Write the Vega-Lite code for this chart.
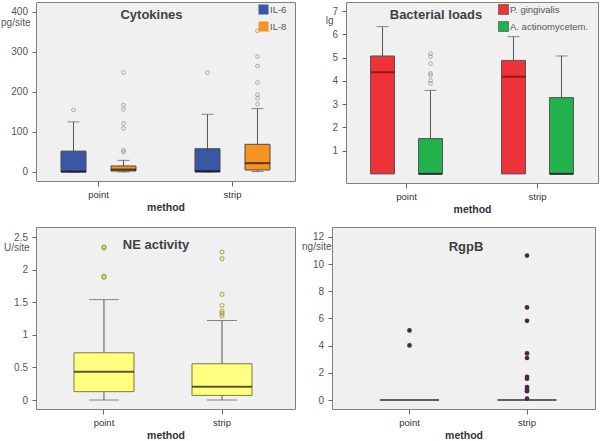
{
  "$schema": "https://vega.github.io/schema/vega-lite/v6.json",
  "padding": {"left": 0, "top": 1, "right": 0, "bottom": 0},
  "background": "white",
  "config": {
    "font": "Liberation Sans",
    "view": {"fill": "#f0f0f0", "stroke": "#808080", "strokeWidth": 1},
    "axis": {"domain": false, "grid": false, "labelOverlap": false, "tickColor": "#666666", "labelColor": "#555555", "labelFontSize": 10, "titleColor": "#333333"},
    "axisY": {"tickSize": 4, "labelPadding": 4.5, "tickCount": 20, "titleAngle": 0, "titleAlign": "right", "titleBaseline": "alphabetic", "titleFontWeight": "normal", "titleFontSize": 10, "titleColor": "#555555"},
    "axisX": {"tickSize": 5, "labelPadding": 3, "labelAngle": 0, "labelFontSize": 9.5, "labelColor": "#333333", "titleFontWeight": "bold", "titleFontSize": 10.5, "titlePadding": 4},
    "title": {"fontSize": 13, "fontWeight": "bold", "color": "#404040", "anchor": "middle", "frame": "group", "baseline": "alphabetic"},
    "legend": {"orient": "none", "symbolType": "square", "symbolSize": 100, "symbolStrokeColor": "#444444", "symbolStrokeWidth": 0.6, "labelFontSize": 9.5, "labelColor": "#555555", "rowPadding": 4, "padding": 0, "labelOffset": 1}
  },
  "datasets": {
    "cyto_box": [
      {"method": "point", "marker": "IL-6", "lower": 0, "q1": 0, "median": 1, "q3": 52, "upper": 125},
      {"method": "point", "marker": "IL-8", "lower": 0, "q1": 2.5, "median": 6, "q3": 15, "upper": 29},
      {"method": "strip", "marker": "IL-6", "lower": 0, "q1": 0, "median": 2, "q3": 58, "upper": 144},
      {"method": "strip", "marker": "IL-8", "lower": 1, "q1": 5, "median": 22, "q3": 69, "upper": 158}
    ],
    "cyto_out": [
      {"method": "point", "marker": "IL-6", "value": 155},
      {"method": "point", "marker": "IL-8", "value": 50},
      {"method": "point", "marker": "IL-8", "value": 54},
      {"method": "point", "marker": "IL-8", "value": 109},
      {"method": "point", "marker": "IL-8", "value": 121},
      {"method": "point", "marker": "IL-8", "value": 156},
      {"method": "point", "marker": "IL-8", "value": 167},
      {"method": "point", "marker": "IL-8", "value": 248},
      {"method": "strip", "marker": "IL-6", "value": 248},
      {"method": "strip", "marker": "IL-8", "value": 169},
      {"method": "strip", "marker": "IL-8", "value": 184},
      {"method": "strip", "marker": "IL-8", "value": 193},
      {"method": "strip", "marker": "IL-8", "value": 223},
      {"method": "strip", "marker": "IL-8", "value": 264},
      {"method": "strip", "marker": "IL-8", "value": 288},
      {"method": "strip", "marker": "IL-8", "value": 352}
    ],
    "bact_box": [
      {"method": "point", "marker": "P. gingivalis", "lower": 0, "q1": 0, "median": 4.37, "q3": 5.07, "upper": 6.33},
      {"method": "point", "marker": "A. actinomycetem.", "lower": 0, "q1": 0, "median": 0, "q3": 1.52, "upper": 3.59},
      {"method": "strip", "marker": "P. gingivalis", "lower": 0, "q1": 0, "median": 4.18, "q3": 4.88, "upper": 5.9},
      {"method": "strip", "marker": "A. actinomycetem.", "lower": 0, "q1": 0, "median": 0, "q3": 3.28, "upper": 5.07}
    ],
    "bact_out": [
      {"method": "point", "marker": "A. actinomycetem.", "value": 5.17},
      {"method": "point", "marker": "A. actinomycetem.", "value": 5.04},
      {"method": "point", "marker": "A. actinomycetem.", "value": 4.74},
      {"method": "point", "marker": "A. actinomycetem.", "value": 4.32},
      {"method": "point", "marker": "A. actinomycetem.", "value": 4.24},
      {"method": "point", "marker": "A. actinomycetem.", "value": 4.02},
      {"method": "point", "marker": "A. actinomycetem.", "value": 3.89}
    ],
    "ne_box": [
      {"method": "point", "lower": 0, "q1": 0.128, "median": 0.434, "q3": 0.724, "upper": 1.54},
      {"method": "strip", "lower": 0, "q1": 0.071, "median": 0.204, "q3": 0.556, "upper": 1.22}
    ],
    "ne_out": [
      {"method": "point", "value": 1.88},
      {"method": "point", "value": 1.9},
      {"method": "point", "value": 2.33},
      {"method": "point", "value": 2.35},
      {"method": "strip", "value": 1.29},
      {"method": "strip", "value": 1.33},
      {"method": "strip", "value": 1.36},
      {"method": "strip", "value": 1.45},
      {"method": "strip", "value": 1.62},
      {"method": "strip", "value": 2.17},
      {"method": "strip", "value": 2.27}
    ],
    "rgp_box": [
      {"method": "point", "median": 0},
      {"method": "strip", "median": 0}
    ],
    "rgp_pts": [
      {"method": "point", "value": 4.02},
      {"method": "point", "value": 5.12},
      {"method": "strip", "value": 10.63},
      {"method": "strip", "value": 6.81},
      {"method": "strip", "value": 5.83},
      {"method": "strip", "value": 3.43},
      {"method": "strip", "value": 3.09},
      {"method": "strip", "value": 1.71},
      {"method": "strip", "value": 1.57},
      {"method": "strip", "value": 0.95},
      {"method": "strip", "value": 0.8},
      {"method": "strip", "value": 0.65},
      {"method": "strip", "value": 0.1}
    ]
  },
  "resolve": {"scale": {"color": "independent", "xOffset": "independent"}, "legend": {"color": "independent"}},
  "bounds": "full",
  "spacing": 10,
  "vconcat": [
    {
      "bounds": "flush",
      "spacing": 51,
      "resolve": {"scale": {"color": "independent", "xOffset": "independent"}, "legend": {"color": "independent"}},
      "hconcat": [
        {
          "width": 259,
          "height": 179,
          "title": {"text": "Cytokines", "dx": -14, "offset": -20},
          "encoding": {
            "x": {"field": "method", "type": "nominal", "title": "method", "scale": {"type": "band", "domain": ["point", "strip"], "paddingInner": 0.167, "paddingOuter": 0.05}},
            "xOffset": {"field": "marker", "type": "nominal", "scale": {"type": "band", "domain": ["IL-6", "IL-8"], "paddingInner": 0.5, "paddingOuter": 0.366}}
          },
          "layer": [
            {"data": {"name": "cyto_box"}, "mark": {"type": "rule", "color": "#555555"},
             "encoding": {"y": {"field": "lower", "type": "quantitative", "title": "pg/site", "scale": {"domain": [-22.5, 424], "nice": false, "zero": false}, "axis": {"values": [0, 100, 200, 300, 400], "format": "d", "titleX": -6, "titleY": 23}}, "y2": {"field": "upper"}}},
            {"data": {"name": "cyto_box"}, "mark": {"type": "tick", "size": 12, "thickness": 1, "color": "#555555"},
             "encoding": {"y": {"field": "upper", "type": "quantitative", "title": "pg/site"}}},
            {"data": {"name": "cyto_box"}, "mark": {"type": "tick", "size": 12, "thickness": 1, "color": "#555555"},
             "encoding": {"y": {"field": "lower", "type": "quantitative", "title": "pg/site"}}},
            {"data": {"name": "cyto_box"}, "mark": {"type": "bar", "stroke": "#4a4a4a", "strokeWidth": 1},
             "encoding": {"y": {"field": "q1", "type": "quantitative", "title": "pg/site"}, "y2": {"field": "q3"},
               "color": {"field": "marker", "type": "nominal", "title": null, "scale": {"domain": ["IL-6", "IL-8"], "range": ["#3c56a6", "#f7931e"]},
                 "legend": {"legendX": 222, "legendY": 2, "encode": {"symbols": {"update": {"fill": {"signal": "datum.label === 'IL-6' ? '#1f6cc8' : '#f6c20c'"}}}}}}}},
            {"data": {"name": "cyto_box"}, "mark": {"type": "tick", "size": 25, "thickness": 2, "color": "#111111"},
             "encoding": {"y": {"field": "median", "type": "quantitative", "title": "pg/site"}}},
            {"data": {"name": "cyto_out"}, "mark": {"type": "point", "shape": "circle", "filled": false, "size": 14, "color": "#8a8a8a", "strokeWidth": 1},
             "encoding": {"y": {"field": "value", "type": "quantitative", "title": "pg/site"}}}
          ]
        },
        {
          "width": 252,
          "height": 181,
          "title": {"text": "Bacterial loads", "dx": -36, "offset": -20},
          "encoding": {
            "x": {"field": "method", "type": "nominal", "title": "method", "scale": {"type": "band", "domain": ["point", "strip"], "paddingInner": 0.176, "paddingOuter": 0.05}},
            "xOffset": {"field": "marker", "type": "nominal", "scale": {"type": "band", "domain": ["P. gingivalis", "A. actinomycetem."], "paddingInner": 0.5, "paddingOuter": 0.375}}
          },
          "layer": [
            {"data": {"name": "bact_box"}, "mark": {"type": "rule", "color": "#555555"},
             "encoding": {"y": {"field": "lower", "type": "quantitative", "title": "lg", "scale": {"domain": [-0.39, 7.39], "nice": false, "zero": false}, "axis": {"values": [1, 2, 3, 4, 5, 6, 7], "format": "d", "titleX": -13, "titleY": 21}}, "y2": {"field": "upper"}}},
            {"data": {"name": "bact_box"}, "mark": {"type": "tick", "size": 12, "thickness": 1, "color": "#555555"},
             "encoding": {"y": {"field": "upper", "type": "quantitative", "title": "lg"}}},
            {"data": {"name": "bact_box"}, "mark": {"type": "bar", "stroke": "#555555", "strokeWidth": 1},
             "encoding": {"y": {"field": "q1", "type": "quantitative", "title": "lg"}, "y2": {"field": "q3"},
               "color": {"field": "marker", "type": "nominal", "title": null, "scale": {"domain": ["P. gingivalis", "A. actinomycetem."], "range": ["#ee3338", "#22b14c"]}, "legend": {"legendX": 152, "legendY": 2}}}},
            {"data": {"name": "bact_box"}, "mark": {"type": "tick", "size": 24, "thickness": 2},
             "encoding": {"y": {"field": "median", "type": "quantitative", "title": "lg"},
               "color": {"condition": {"test": "datum.marker === 'P. gingivalis'", "value": "#7a0a0a"}, "value": "#111111"}}},
            {"data": {"name": "bact_out"}, "mark": {"type": "point", "shape": "circle", "filled": false, "size": 14, "color": "#8a8a8a", "strokeWidth": 1},
             "encoding": {"y": {"field": "value", "type": "quantitative", "title": "lg"}}}
          ]
        }
      ]
    },
    {
      "bounds": "flush",
      "spacing": 37,
      "hconcat": [
        {
          "width": 259,
          "height": 182,
          "title": {"text": "NE activity", "dx": -9.5, "offset": -25},
          "encoding": {
            "x": {"field": "method", "type": "nominal", "title": "method", "scale": {"type": "band", "domain": ["point", "strip"], "paddingInner": 0.4915, "paddingOuter": 0.343, "align": 0.469}}
          },
          "layer": [
            {"data": {"name": "ne_box"}, "mark": {"type": "rule", "color": "#555555"},
             "encoding": {"y": {"field": "lower", "type": "quantitative", "title": "U/site", "scale": {"domain": [-0.138, 2.654], "nice": false, "zero": false}, "axis": {"values": [0, 0.5, 1, 1.5, 2, 2.5], "format": "~f", "titleX": -7, "titleY": 23}}, "y2": {"field": "upper"}}},
            {"data": {"name": "ne_box"}, "mark": {"type": "tick", "size": 30, "thickness": 1, "color": "#555555"},
             "encoding": {"y": {"field": "upper", "type": "quantitative", "title": "U/site"}}},
            {"data": {"name": "ne_box"}, "mark": {"type": "tick", "size": 30, "thickness": 1, "color": "#555555"},
             "encoding": {"y": {"field": "lower", "type": "quantitative", "title": "U/site"}}},
            {"data": {"name": "ne_box"}, "mark": {"type": "bar", "fill": "#ffff80", "stroke": "#7a7a3a", "strokeWidth": 1},
             "encoding": {"y": {"field": "q1", "type": "quantitative", "title": "U/site"}, "y2": {"field": "q3"}}},
            {"data": {"name": "ne_box"}, "mark": {"type": "tick", "size": 60, "thickness": 2, "color": "#111111"},
             "encoding": {"y": {"field": "median", "type": "quantitative", "title": "U/site"}}},
            {"data": {"name": "ne_out"}, "mark": {"type": "point", "shape": "circle", "filled": false, "size": 16, "color": "#9a9a22", "strokeWidth": 1.2},
             "encoding": {"y": {"field": "value", "type": "quantitative", "title": "U/site"}}}
          ]
        },
        {
          "width": 263,
          "height": 182,
          "title": {"text": "RgpB", "dx": 2.5, "offset": -27},
          "encoding": {
            "x": {"field": "method", "type": "nominal", "title": "method", "scale": {"type": "band", "domain": ["point", "strip"], "paddingInner": 0.498, "paddingOuter": 0.368, "align": 0.555}}
          },
          "layer": [
            {"data": {"name": "rgp_box"}, "mark": {"type": "tick", "size": 59, "thickness": 2, "color": "#222222"},
             "encoding": {"y": {"field": "median", "type": "quantitative", "title": "ng/site", "scale": {"domain": [-0.66, 12.73], "nice": false, "zero": false}, "axis": {"values": [0, 2, 4, 6, 8, 10, 12], "format": "d", "titleX": -1, "titleY": 22}}}},
            {"data": {"name": "rgp_pts"}, "mark": {"type": "point", "shape": "circle", "filled": true, "opacity": 1, "size": 22, "color": "#4b2747"},
             "encoding": {"y": {"field": "value", "type": "quantitative", "title": "ng/site"}}}
          ]
        }
      ]
    }
  ]
}
